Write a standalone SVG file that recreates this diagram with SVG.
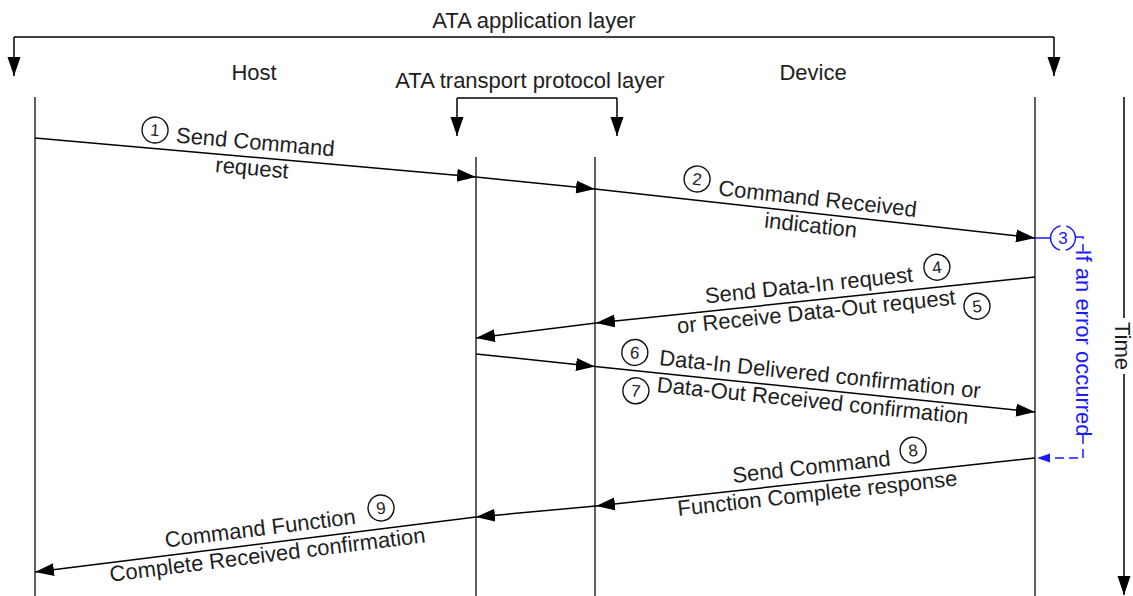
<svg xmlns="http://www.w3.org/2000/svg" width="1133" height="596" viewBox="0 0 1133 596">
<style>
text{font-family:"Liberation Sans",Arial,sans-serif;fill:#1e1e1e}
.t{font-size:22px;text-anchor:middle}
.n{font-size:17px;text-anchor:middle}
.life{stroke:#3a3a3a;stroke-width:1.6;fill:none}
.msg{stroke:#000;stroke-width:1.5;fill:none;marker-end:url(#ah)}
.br{stroke:#000;stroke-width:1.5;fill:none}
.brA{stroke:#000;stroke-width:1.5;fill:none;marker-end:url(#ah)}
.num{fill:none;stroke:#111;stroke-width:1.4}
.blue{stroke:#1a1aff;stroke-width:1.5;fill:none}
.bd{stroke:#1a1aff;stroke-width:1.5;fill:none;stroke-dasharray:9 5}
.bt{fill:#1a1aff;font-size:22px;text-anchor:middle}
</style>
<defs>
<marker id="ah" markerUnits="userSpaceOnUse" markerWidth="20" markerHeight="14" refX="19" refY="6.5" orient="auto">
<path d="M0,0 L19,6.5 L0,13 z" fill="#000"/>
</marker>
<marker id="bah" markerUnits="userSpaceOnUse" markerWidth="14" markerHeight="10" refX="13" refY="4.5" orient="auto">
<path d="M0,0 L13,4.5 L0,9 z" fill="#1a1aff"/>
</marker>
</defs>

<g id="app-layer">
<text class="t" x="534" y="28">ATA application layer</text>
<path class="br" d="M14,37 H1054"/>
<path class="brA" d="M14,37 V76"/>
<path class="brA" d="M1054,37 V76"/>
</g>

<g id="transport-layer">
<text class="t" x="530" y="88">ATA transport protocol layer</text>
<path class="br" d="M457,98 H617"/>
<path class="brA" d="M457,98 V136"/>
<path class="brA" d="M617,98 V136"/>
</g>

<g id="host">
<text class="t" x="254" y="80">Host</text>
<path class="life" d="M35,97 V596"/>
</g>
<g id="transport-left">
<path class="life" d="M476,157 V596"/>
</g>
<g id="transport-right">
<path class="life" d="M595,157 V596"/>
</g>
<g id="device">
<text class="t" x="813" y="80">Device</text>
<path class="life" d="M1035,97 V596"/>
</g>

<g id="time">
<path class="br" d="M1124,97 V318"/>
<path class="brA" d="M1124,374 V595"/>
<text class="t" transform="translate(1123,346) rotate(90)" x="0" y="8">Time</text>
</g>

<g id="connectors">
<path class="msg" d="M35,138 L476,177"/>
<path class="msg" d="M476,177 L595,189"/>
<path class="msg" d="M595,189 L1035,238"/>
<path class="msg" d="M1035,277 L596,323"/>
<path class="msg" d="M596,323 L476,338"/>
<path class="msg" d="M476,354 L595,366.5"/>
<path class="msg" d="M595,366.5 L1035,412"/>
<path class="msg" d="M1035,458 L596,506"/>
<path class="msg" d="M596,506 L476,517"/>
<path class="msg" d="M476,517 L35,572"/>
</g>

<g id="label-1" transform="translate(254,157.4) rotate(5.07)">
<circle class="num" cx="-101" cy="-18.5" r="13"/>
<text class="n" x="-101" y="-12.5">1</text>
<text class="t" x="0" y="-8">Send Command</text>
<text class="t" x="-1" y="18">request</text>
</g>

<g id="label-2" transform="translate(815,214) rotate(6.23)">
<circle class="num" cx="-121" cy="-22" r="13"/>
<text class="n" x="-121" y="-16">2</text>
<text class="t" x="1" y="-8">Command Received</text>
<text class="t" x="-3" y="19">indication</text>
</g>

<g id="label-4-5" transform="translate(812,300.4) rotate(-5.98)">
<circle class="num" cx="127.7" cy="-20" r="13"/>
<text class="n" x="127.7" y="-14">4</text>
<circle class="num" cx="163.5" cy="23" r="13"/>
<text class="n" x="163.5" y="29">5</text>
<text class="t" x="-1.5" y="-8">Send Data-In request</text>
<text class="t" x="3" y="19">or Receive Data-Out request</text>
</g>

<g id="label-6-7" transform="translate(816,389.3) rotate(5.9)">
<circle class="num" cx="-184" cy="-18" r="13"/>
<text class="n" x="-184" y="-12">6</text>
<circle class="num" cx="-179" cy="20" r="13"/>
<text class="n" x="-179" y="26">7</text>
<text class="t" x="2.5" y="-8">Data-In Delivered confirmation or</text>
<text class="t" x="-2" y="19">Data-Out Received confirmation</text>
</g>

<g id="label-8" transform="translate(815,482) rotate(-6.24)">
<circle class="num" cx="101" cy="-21" r="13"/>
<text class="n" x="101" y="-15">8</text>
<text class="t" x="-2" y="-8">Send Command</text>
<text class="t" x="1" y="19">Function Complete response</text>
</g>

<g id="label-9" transform="translate(264,543.4) rotate(-7.1)">
<circle class="num" cx="120.5" cy="-20.7" r="13"/>
<text class="n" x="120.5" y="-14.7">9</text>
<text class="t" x="-2" y="-8">Command Function</text>
<text class="t" x="2" y="19">Complete Received confirmation</text>
</g>

<g id="error-path">
<path class="blue" d="M1035,238 H1050.5"/>
<circle class="bd" cx="1063" cy="238" r="12.5" style="stroke-dasharray:16.6 6 33.3 6 16.6 0"/>
<text class="n" x="1063" y="244" style="fill:#1a1aff">3</text>
<path class="bd" d="M1076,237 H1083 V251"/>
<path class="bd" d="M1083,435 V458 H1037" marker-end="url(#bah)"/>
<text class="bt" transform="translate(1083,343) rotate(90)" x="0" y="7.5">If an error occurred</text>
</g>
</svg>
